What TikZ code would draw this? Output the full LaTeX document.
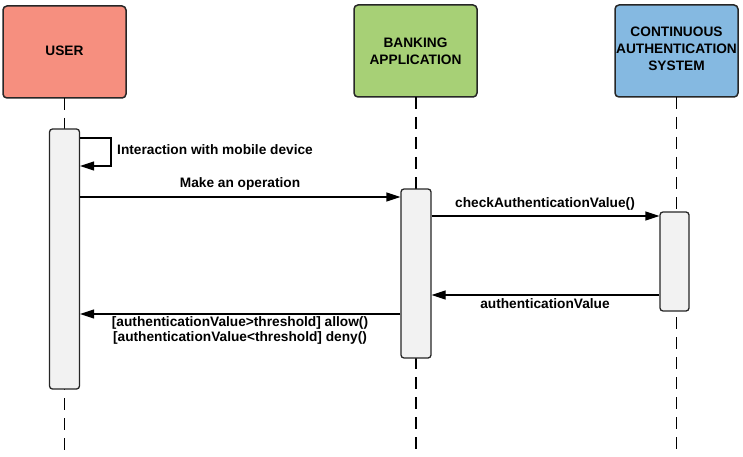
\documentclass[tikz,border=0pt]{standalone}
\usepackage{fontspec}
\setmainfont{Liberation Sans}
\usetikzlibrary{arrows.meta}
\definecolor{usercol}{RGB}{246,143,127}
\definecolor{bankcol}{RGB}{167,208,118}
\definecolor{cascol}{RGB}{133,185,225}
\definecolor{actcol}{RGB}{242,242,242}
\begin{document}
\begin{tikzpicture}[x=1pt,y=-1pt,
  header/.style={draw=black!85,line width=1.5pt,rounded corners=4pt},
  htext/.style={font=\fontsize{13.7}{16.8}\selectfont\bfseries,align=center},
  actbox/.style={draw=black!85,line width=1.3pt,rounded corners=3pt,fill=actcol,inner sep=0pt},
  life/.style={line width=1.2pt,dash pattern=on 12pt off 8pt},
  msg/.style={line width=1.3pt,-{Triangle[length=14pt,width=9pt]}},
  lbl/.style={font=\fontsize{13.7}{14.5}\selectfont\bfseries,inner sep=0pt,align=center}]
\useasboundingbox (0,0) rectangle (743,457);
% headers
\path[header,fill=usercol] (3,6) rectangle (126,98);
\node[htext] (user) at (64.5,51) {USER};
\path[header,fill=bankcol] (354,5) rectangle (477,97);
\node[htext] (bank) at (415.5,51) {BANKING\\APPLICATION};
\path[header,fill=cascol] (615,5) rectangle (738,97);
\node[htext] (cas) at (676.5,49) {CONTINUOUS\\AUTHENTICATION\\SYSTEM};
% lifelines
\coordinate (uh) at (64.5,98);
\coordinate (ue) at (64.5,457);
\coordinate (bh) at (416,97);
\coordinate (be) at (416,457);
\coordinate (ch) at (676.5,97);
\coordinate (ce) at (676.5,457);
\draw[life] (uh) -- (ue);
\draw[life] (bh) -- (be);
\draw[life] (ch) -- (ce);
% activations
\node[actbox,minimum width=30pt,minimum height=260pt] (ua) at (64.5,259) {};
\node[actbox,minimum width=30pt,minimum height=169pt] (ba) at (416,273.5) {};
\node[actbox,minimum width=29pt,minimum height=99pt] (ca) at (674.5,261.5) {};
% self message
\coordinate (s1) at (111,138);
\coordinate (s2) at (111,166);
\draw[msg] (ua.east |- s1) -- (s1) -- (s2) -- (ua.east |- s2);
\node[lbl,anchor=west] (l0) at (117,150) {Interaction with mobile device};
% messages
\draw[msg] (ua.east |- 0,197) -- (ba.west |- 0,197);
\node[lbl] (l1) at (240,184) {Make an operation};
\draw[msg] (ba.east |- 0,216) -- (ca.west |- 0,216);
\node[lbl] (l2) at (545,204) {checkAuthenticationValue()};
\draw[msg] (ca.west |- 0,295) -- (ba.east |- 0,295);
\node[lbl] (l3) at (545,304) {authenticationValue};
\draw[msg] (ba.west |- 0,314) -- (ua.east |- 0,314);
\node[lbl] (l4) at (240,330.5) {{[authenticationValue>threshold] allow()}\\{[authenticationValue<threshold] deny()}};
\end{tikzpicture}
\end{document}
